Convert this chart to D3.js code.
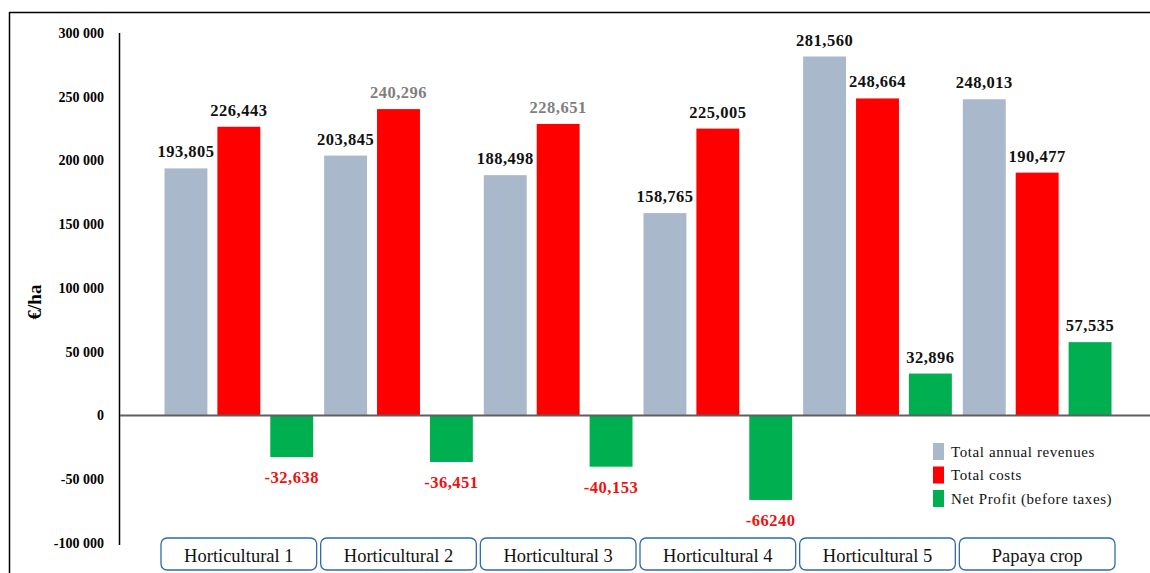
<!DOCTYPE html>
<html><head><meta charset="utf-8">
<script src="https://cdn.jsdelivr.net/npm/d3@7"></script>
<style>body{margin:0;background:#fff}svg{display:block}</style>
</head><body>
<svg id="c" width="1150" height="573"></svg>
<script>
const categories = ["Horticultural 1","Horticultural 2","Horticultural 3","Horticultural 4","Horticultural 5","Papaya crop"];
const seriesNames = ["Total annual revenues","Total costs","Net Profit (before taxes)"];
const revenues = [193805, 203845, 188498, 158765, 281560, 248013];
const costs = [226443, 240296, 228651, 225005, 248664, 190477];
const netProfit = [-32638, -36451, -40153, -66240, 32896, 57535];
const revenueLabels = ["193,805","203,845","188,498","158,765","281,560","248,013"];
const costLabels = ["226,443","240,296","228,651","225,005","248,664","190,477"];
const profitLabels = ["-32,638","-36,451","-40,153","-66240","32,896","57,535"];
const yTicks = [300000,250000,200000,150000,100000,50000,0,-50000,-100000];
const yTickLabels = ["300 000","250 000","200 000","150 000","100 000","50 000","0","-50 000","-100 000"];
const colors = ["#A9B8CA","#FF0000","#00B050"];

const svg = d3.select("#c");
const font = "'Liberation Serif','Times New Roman',serif";

// frame
svg.append("line").attr("x1",9.5).attr("x2",1150).attr("y1",12.5).attr("y2",12.5).attr("stroke","#000").attr("stroke-width",1.5);
svg.append("line").attr("x1",9.5).attr("x2",9.5).attr("y1",12).attr("y2",573).attr("stroke","#000").attr("stroke-width",1.5);

const y = d3.scaleLinear().domain([-100000,300000]).range([543,33]);
const x0 = d3.scaleBand().domain(categories).range([159,1117]);
const x1 = d3.scaleBand().domain(seriesNames).range([0,x0.bandwidth()]).paddingInner(10/53).paddingOuter(0.1037);

// y axis
svg.append("line").attr("x1",119.5).attr("x2",119.5).attr("y1",y(300000)).attr("y2",y(-100000)+2).attr("stroke","#000").attr("stroke-width",1.5);
svg.append("g").selectAll("text").data(yTicks).join("text")
  .attr("x",104).attr("y",d=>y(d)).attr("dy","0.35em").attr("text-anchor","end")
  .attr("font-family",font).attr("font-weight","bold").attr("font-size",14)
  .text((d,i)=>yTickLabels[i]);
svg.append("text").attr("transform",`translate(41,${y(100000)+14}) rotate(-90)`)
  .attr("text-anchor","middle").attr("font-family",font).attr("font-weight","bold").attr("font-size",19).text("€/ha");

const data = [revenues, costs, netProfit];
const labels = [revenueLabels, costLabels, profitLabels];
const gBars = svg.append("g");
seriesNames.forEach((s,si)=>{
  gBars.selectAll(null).data(categories).join("rect")
    .attr("x",c=>x0(c)+x1(s)).attr("width",x1.bandwidth())
    .attr("y",(c,i)=>y(Math.max(0,data[si][i])))
    .attr("height",(c,i)=>Math.abs(y(data[si][i])-y(0)))
    .attr("fill",colors[si]);
});

// zero line
svg.append("line").attr("x1",120).attr("x2",1150).attr("y1",y(0)).attr("y2",y(0)).attr("stroke","#5f5f5f").attr("stroke-width",2);

// value labels
const gLab = svg.append("g").attr("font-family",font).attr("font-weight","bold").attr("font-size",16.5).attr("letter-spacing",0.5).attr("text-anchor","middle");
seriesNames.forEach((s,si)=>{
  gLab.selectAll(null).data(categories).join("text")
    .attr("x",c=>x0(c)+x1(s)+x1.bandwidth()/2)
    .attr("y",(c,i)=>{const v=data[si][i]; return v>=0 ? y(v)-11 : y(v)+26;})
    .attr("fill",(c,i)=>{const v=data[si][i]; if(v<0) return "#EE1111"; if(si===1&&(i===1||i===2)) return "#7F7F7F"; return "#111";})
    .text((c,i)=>labels[si][i]);
});

// category boxes
const gCat = svg.append("g");
gCat.selectAll("rect").data(categories).join("rect")
  .attr("x",c=>x0(c)+2).attr("y",538).attr("width",x0.bandwidth()-4).attr("height",32)
  .attr("rx",6).attr("fill","#fff").attr("stroke","#2E6BA8").attr("stroke-width",1.3);
gCat.selectAll("text").data(categories).join("text")
  .attr("x",c=>x0(c)+x0.bandwidth()/2).attr("y",562).attr("text-anchor","middle")
  .attr("font-family",font).attr("font-size",18.5).attr("fill","#111").text(c=>c);

// legend
const lg = svg.append("g").attr("transform","translate(933,443)");
seriesNames.forEach((s,i)=>{
  lg.append("rect").attr("x",0).attr("y",i*23.5).attr("width",11).attr("height",17).attr("fill",colors[i]);
  lg.append("text").attr("x",18).attr("y",i*23.5+13.5).attr("font-family",font).attr("font-size",15)
    .attr("letter-spacing",0.6).attr("fill","#111").text(s);
});
</script>
</body></html>
